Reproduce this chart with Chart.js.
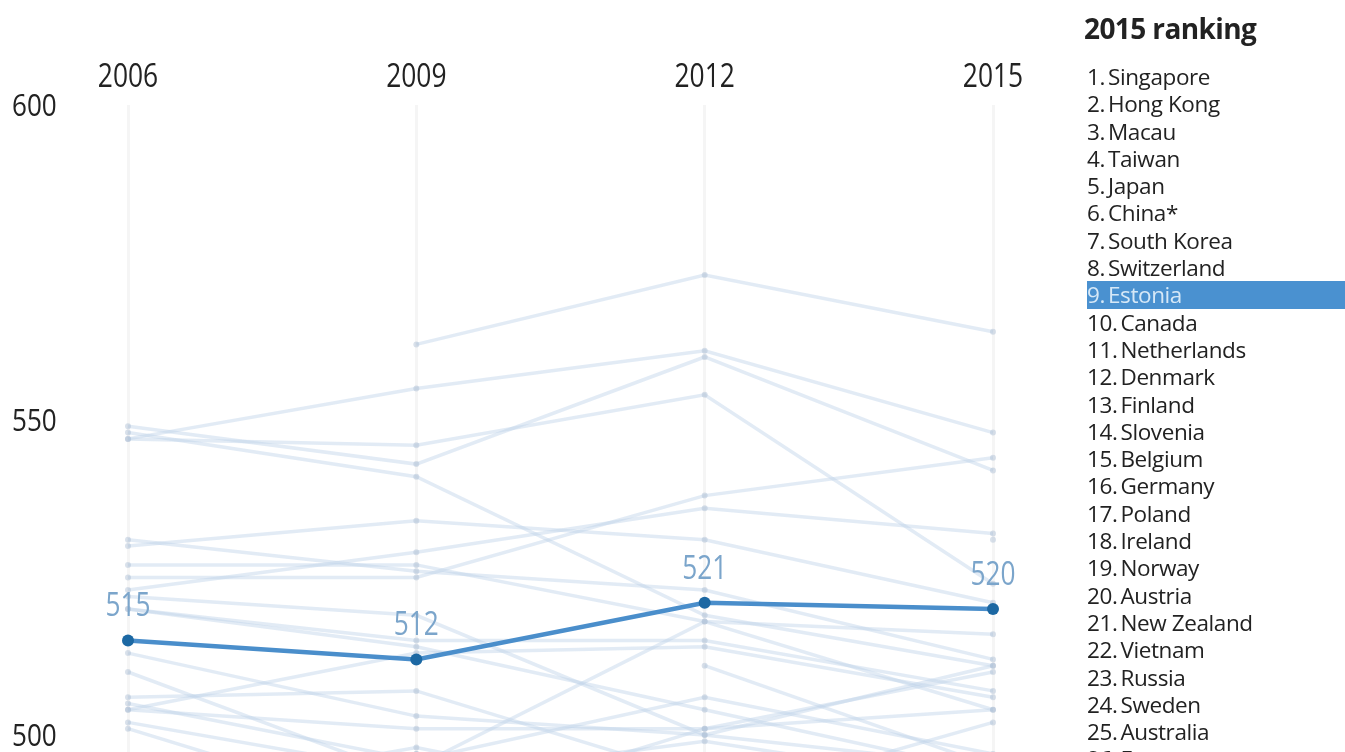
<!DOCTYPE html>
<html>
<head>
<meta charset="utf-8">
<script src="https://cdn.jsdelivr.net/npm/chart.js@4.4.1/dist/chart.umd.min.js"></script>
<style>
  html, body { margin: 0; padding: 0; background: #fff; overflow: hidden; }
  #wrap { position: absolute; left: 0; top: 0; width: 1345px; height: 752px; }
  #ranking { position: absolute; left: 1084px; top: 8px; right: 0; font-family: 'Open Sans', 'Noto Sans', sans-serif; color: #222; }
  #ranking h2 { margin: 0; font-size: 28px; font-weight: 700; letter-spacing: -0.6px; height: 55px; line-height: 40px; }
  #ranking ol { list-style: none; margin: 0; padding: 0; }
  #ranking li { height: 27.3px; line-height: 27.3px; font-size: 22.5px; padding-left: 3px; letter-spacing: -0.4px; white-space: nowrap; }
  #ranking li .n { margin-right: 3px; }
  #ranking li.hl { background: #4a91d0; color: #d6e8f7; margin-left: 3px; padding-left: 0; }
</style>
</head>
<body>
<div id="wrap"><canvas id="chart"></canvas></div>
<div id="ranking"><h2>2015 ranking</h2><ol id="rank-list"></ol></div>
<script>
// PISA maths scores, countries in 2015 ranking order
const years = ['2006', '2009', '2012', '2015'];
const countries = ['Singapore', 'Hong Kong', 'Macau', 'Taiwan', 'Japan', 'China*', 'South Korea',
  'Switzerland', 'Estonia', 'Canada', 'Netherlands', 'Denmark', 'Finland', 'Slovenia', 'Belgium',
  'Germany', 'Poland', 'Ireland', 'Norway', 'Austria', 'New Zealand', 'Vietnam', 'Russia', 'Sweden',
  'Australia', 'France', 'Britain', 'Czech Republic', 'Portugal', 'Italy', 'Iceland', 'Spain',
  'Luxembourg', 'Latvia', 'Lithuania', 'Hungary', 'Slovakia'];
const scores2006 = [null, 547, 525, 549, 523, null, 547, 530, 515, 527, 531, 513, 548, 504, 520,
  504, 495, 501, 490, 505, 522, null, 476, 502, 520, 496, 495, 510, 466, 462, 506, 480, 490, 486, 486, 491, 492];
const scores2009 = [562, 555, 525, 543, 529, null, 546, 534, 512, 527, 526, 503, 541, 501, 515,
  513, 495, 487, 498, 496, 519, null, 468, 494, 514, 497, 492, 493, 487, 483, 507, 483, 489, 482, 477, 490, 497];
const scores2012 = [573, 561, 538, 560, 536, null, 554, 531, 521, 518, 523, 500, 519, 501, 515,
  514, 518, 501, 489, 506, 500, 511, 482, 478, 504, 495, 494, 499, 487, 485, 493, 484, 490, 491, 479, 477, 482];
const scores2015 = [564, 548, 544, 542, 532, 531, 524, 521, 520, 516, 512, 511, 511, 510, 507,
  506, 504, 504, 502, 497, 495, 495, 494, 494, 494, 493, 492, 492, 492, 490, 488, 486, 486, 482, 478, 477, 475];
const highlight = 'Estonia';
const yTicks = [500, 550, 600];

const FONT = "'Open Sans', 'Noto Sans', sans-serif";

// ranking list on the right
const listEl = document.getElementById('rank-list');
countries.forEach((name, i) => {
  const li = document.createElement('li');
  if (name === highlight) li.className = 'hl';
  li.innerHTML = '<span class="n">' + (i + 1) + '.</span>' + name;
  listEl.appendChild(li);
});

const datasets = countries.map((name, i) => {
  const isHl = name === highlight;
  return {
    label: name,
    data: [scores2006[i], scores2009[i], scores2012[i], scores2015[i]],
    order: isHl ? 0 : 1,
    borderColor: isHl ? '#4a8ecb' : 'rgba(190, 210, 232, 0.45)',
    borderWidth: isHl ? 4.5 : 3.5,
    pointRadius: isHl ? 6 : 3,
    pointBackgroundColor: isHl ? '#1c68a3' : 'rgba(170, 188, 210, 0.45)',
    pointBorderWidth: 0,
    tension: 0
  };
});

// condensed text helper (the original uses a narrow face)
function narrowText(ctx, text, x, y, size, squeeze, align, color) {
  ctx.save();
  ctx.font = size + 'px ' + FONT;
  ctx.fillStyle = color;
  ctx.textBaseline = 'alphabetic';
  ctx.textAlign = align;
  ctx.translate(x, y);
  ctx.scale(squeeze, 1);
  ctx.fillText(text, 0, 0);
  ctx.restore();
}

// axis labels and the scores above the highlighted line
const labelsPlugin = {
  id: 'labelsPlugin',
  afterDraw(chart) {
    const ctx = chart.ctx;
    const xs = chart.scales.x, ys = chart.scales.y;
    xs.ticks.forEach((t, i) => {
      narrowText(ctx, years[i], xs.getPixelForTick(i), 87, 33, 0.8, 'center', '#222');
    });
    ys.ticks.forEach(t => {
      narrowText(ctx, String(t.value), 12, ys.getPixelForValue(t.value) + 11, 31, 0.84, 'left', '#222');
    });
    const idx = countries.indexOf(highlight);
    const meta = chart.getDatasetMeta(idx);
    meta.data.forEach((pt, j) => {
      const v = chart.data.datasets[idx].data[j];
      if (v == null) return;
      narrowText(ctx, String(v), pt.x, pt.y - 24, 32, 0.82, 'center', '#7ba5cb');
    });
  }
};

new Chart(document.getElementById('chart'), {
  type: 'line',
  data: { labels: years, datasets: datasets },
  plugins: [labelsPlugin],
  options: {
    responsive: true,
    maintainAspectRatio: false,
    animation: false,
    layout: { autoPadding: false, padding: { left: 12, right: 352, top: 0, bottom: 0 } },
    plugins: { legend: { display: false }, tooltip: { enabled: false } },
    scales: {
      x: {
        position: 'top',
        offset: false,
        afterFit(scale) { scale.height = 105; },
        grid: { color: 'rgba(0, 0, 0, 0.04)', lineWidth: 3, drawTicks: false },
        border: { display: false },
        ticks: { display: false }
      },
      y: {
        min: 497.3,
        max: 600,
        afterFit(scale) { scale.width = 116; scale.paddingTop = 0; scale.paddingBottom = 0; },
        afterBuildTicks(scale) { scale.ticks = yTicks.map(v => ({ value: v })); },
        grid: { display: false },
        border: { display: false },
        ticks: { display: false }
      }
    }
  }
});
</script>
</body>
</html>
